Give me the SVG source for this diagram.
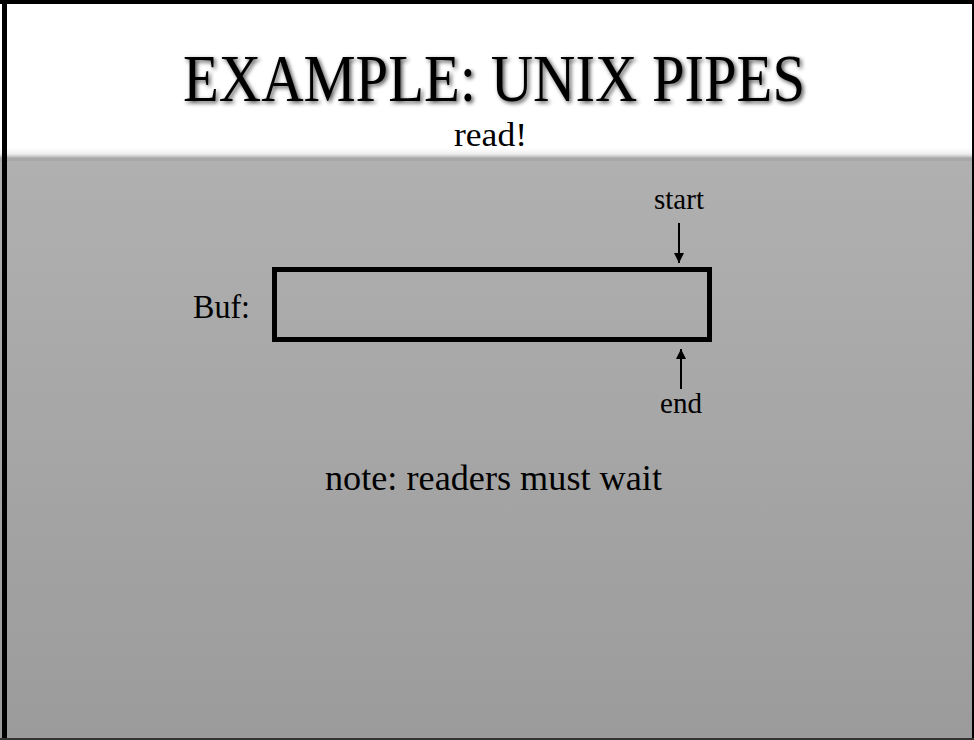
<svg xmlns="http://www.w3.org/2000/svg" width="974" height="740" viewBox="0 0 974 740">
<style>
.t{font-family:"Liberation Serif","Times New Roman",serif;fill:#000}
.ln{stroke:#000;stroke-width:2;fill:none}
</style>
<defs>
<linearGradient id="bg" x1="0" y1="0" x2="0" y2="1">
<stop offset="0" stop-color="#b6b6b6"/>
<stop offset="1" stop-color="#9b9b9b"/>
</linearGradient>
<linearGradient id="hd" x1="0" y1="0" x2="0" y2="1">
<stop offset="0" stop-color="#ffffff"/>
<stop offset="0.55" stop-color="#f0f0f0"/>
<stop offset="0.8" stop-color="#d2d2d2"/>
<stop offset="1" stop-color="#aaaaaa"/>
</linearGradient>
<filter id="sh" x="-10%" y="-30%" width="120%" height="160%">
<feGaussianBlur in="SourceAlpha" stdDeviation="2.2"/>
<feOffset dx="2" dy="2" result="b"/>
<feComponentTransfer><feFuncA type="linear" slope="0.7"/></feComponentTransfer>
<feMerge><feMergeNode/><feMergeNode in="SourceGraphic"/></feMerge>
</filter>
<marker id="ah" viewBox="0 0 10 10" refX="10" refY="5" markerWidth="5" markerHeight="5" orient="auto" markerUnits="strokeWidth">
<path d="M0,0 L10,5 L0,10 z" fill="#000"/>
</marker>
</defs>
<rect x="0" y="0" width="974" height="740" fill="url(#bg)"/>
<rect x="0" y="0" width="974" height="148" fill="#ffffff"/>
<rect x="0" y="148" width="974" height="10" fill="url(#hd)"/>
<rect x="0" y="158" width="974" height="3" fill="#a8a8a8"/>
<!-- border -->
<rect x="0" y="0" width="974" height="4" fill="#000"/>
<rect x="2" y="0" width="5" height="740" fill="#000"/>
<rect x="972" y="0" width="2" height="740" fill="#000"/>
<rect x="0" y="738" width="974" height="2" fill="#333"/>

<g id="title">
<text class="t" x="183" y="101" font-size="68" textLength="622" lengthAdjust="spacingAndGlyphs" filter="url(#sh)">EXAMPLE: UNIX PIPES</text>
</g>
<g id="subtitle">
<text class="t" x="454" y="146" font-size="33" textLength="73" lengthAdjust="spacingAndGlyphs">read!</text>
</g>
<g id="buf-label">
<text class="t" x="193" y="318" font-size="33" textLength="57" lengthAdjust="spacingAndGlyphs">Buf:</text>
</g>
<g id="buffer">
<rect x="274.5" y="269.5" width="435" height="70" fill="none" stroke="#000" stroke-width="5"/>
</g>
<g id="start-label">
<text class="t" x="679" y="209" font-size="29" text-anchor="middle" textLength="50" lengthAdjust="spacingAndGlyphs">start</text>
</g>
<g id="end-label">
<text class="t" x="681" y="413" font-size="30" text-anchor="middle" textLength="42" lengthAdjust="spacingAndGlyphs">end</text>
</g>
<g id="note">
<text class="t" x="325" y="490" font-size="36" textLength="337" lengthAdjust="spacingAndGlyphs">note: readers must wait</text>
</g>
<g id="connectors">
<line class="ln" x1="679" y1="223" x2="679" y2="263" marker-end="url(#ah)"/>
<line class="ln" x1="681" y1="389" x2="681" y2="349" marker-end="url(#ah)"/>
</g>
</svg>
